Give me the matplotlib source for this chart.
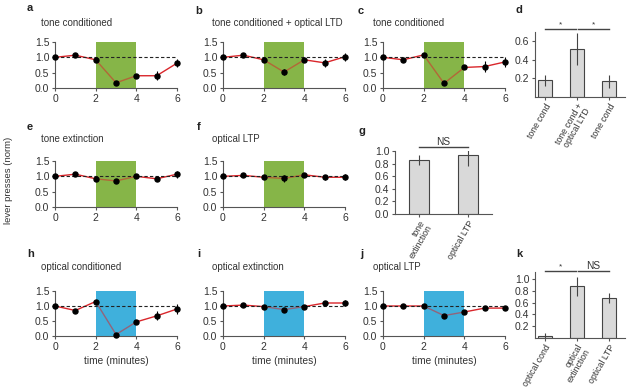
import matplotlib
matplotlib.use("Agg")
import matplotlib.pyplot as plt
import numpy as np

plt.rcParams['font.family'] = ['Liberation Sans', 'DejaVu Sans']
plt.rcParams['font.size'] = 7.5
plt.rcParams['axes.linewidth'] = 0.8
plt.rcParams['xtick.major.width'] = 0.8
plt.rcParams['ytick.major.width'] = 0.8
plt.rcParams['xtick.major.size'] = 2.5
plt.rcParams['ytick.major.size'] = 2.5
plt.rcParams['xtick.major.pad'] = 1.5
plt.rcParams['ytick.major.pad'] = 1.5

time = [0, 1, 2, 3, 4, 5, 6]

a_vals = [1.0, 1.07, 0.92, 0.17, 0.40, 0.40, 0.81]
a_err = [0.0, 0.04, 0.03, 0.03, 0.05, 0.15, 0.12]
b_vals = [1.0, 1.07, 0.92, 0.52, 0.92, 0.82, 1.02]
b_err = [0.0, 0.04, 0.03, 0.10, 0.05, 0.13, 0.13]
c_vals = [1.0, 0.92, 1.08, 0.15, 0.67, 0.70, 0.85]
c_err = [0.0, 0.03, 0.03, 0.03, 0.05, 0.18, 0.15]
e_vals = [1.0, 1.07, 0.92, 0.85, 1.0, 0.92, 1.07]
e_err = [0.0, 0.04, 0.03, 0.03, 0.05, 0.06, 0.12]
f_vals = [1.0, 1.03, 0.97, 0.93, 1.05, 0.97, 0.97]
f_err = [0.0, 0.03, 0.03, 0.10, 0.04, 0.08, 0.10]
h_vals = [1.0, 0.85, 1.15, 0.05, 0.47, 0.67, 0.90]
h_err = [0.0, 0.03, 0.03, 0.03, 0.05, 0.15, 0.17]
i_vals = [1.0, 1.03, 0.98, 0.88, 0.98, 1.10, 1.10]
i_err = [0.0, 0.03, 0.03, 0.05, 0.04, 0.04, 0.10]
j_vals = [1.0, 1.0, 1.0, 0.68, 0.80, 0.93, 0.93]
j_err = [0.0, 0.02, 0.02, 0.03, 0.03, 0.04, 0.05]

d_labels = ["tone cond", "tone cond +\noptical LTD", "tone cond"]
d_vals = [0.18, 0.52, 0.17]
d_err = [0.06, 0.17, 0.07]
g_labels = ["tone\nextinction", "optical LTP"]
g_vals = [0.85, 0.93]
g_err = [0.08, 0.17]
k_labels = ["optical cond", "optical\nextinction", "optical LTP"]
k_vals = [0.04, 0.88, 0.68]
k_err = [0.04, 0.16, 0.08]

GREEN = '#86b548'
BLUE = '#3fb0dc'
RED = '#d9262b'
TXT = '#333333'

W, H = 631, 389
fig = plt.figure(figsize=(W / 100, H / 100), dpi=100)


def px_axes(x0, x1, ytop, ybot):
    return fig.add_axes([x0 / W, 1 - ybot / H, (x1 - x0) / W, (ybot - ytop) / H])


def style(ax):
    for s in ['top', 'right']:
        ax.spines[s].set_visible(False)
    for s in ['left', 'bottom']:
        ax.spines[s].set_color('#555555')
    ax.tick_params(colors='#555555', labelcolor=TXT)


def line_panel(ax, vals, err, color, title, tx, ty, xlabel=False):
    style(ax)
    ax.axvspan(2, 4, color=color, lw=0, zorder=0)
    ax.plot(time, vals, color=RED, lw=1.0, zorder=2)
    ax.axvspan(2, 4, ymin=0, ymax=1, color=color, lw=0, alpha=0.45, zorder=3)
    ax.plot([0, 6], [1, 1], ls=(0, (3, 2)), color='#222222', lw=0.8, zorder=4)
    ax.errorbar(time, vals, yerr=err, fmt='o', color='black', ms=3.6,
                elinewidth=0.8, capsize=0, zorder=5, clip_on=False)
    ax.set_xlim(0, 6)
    ax.set_ylim(0, 1.5)
    ax.set_xticks([0, 2, 4, 6])
    ax.set_yticks([0, 0.5, 1.0, 1.5])
    ax.set_yticklabels(['0.0', '0.5', '1.0', '1.5'])
    fig.text(tx / W, 1 - ty / H, title, ha='left', va='center', color=TXT, fontsize=7)
    if xlabel:
        ax.set_xlabel('time (minutes)', color=TXT, fontsize=7.3, labelpad=3)


def bar_panel(ax, labels, vals, err, ylim, yticks, xlim):
    style(ax)
    x = np.arange(len(vals))
    ax.bar(x, vals, width=0.42, color='#d9d9d9', edgecolor='#444444', lw=0.8, zorder=2)
    ax.errorbar(x, vals, yerr=err, fmt='none', ecolor='#444444', elinewidth=0.8,
                capsize=0, zorder=3)
    ax.set_xlim(*xlim)
    ax.set_ylim(*ylim)
    ax.set_yticks(yticks)
    ax.set_yticklabels([f'{t:.1f}' for t in yticks])
    ax.set_xticks(x)
    ax.set_xticklabels(labels, rotation=60, ha='right', rotation_mode='anchor',
                       linespacing=0.95, fontsize=6.3)
    ax.tick_params(axis='x', pad=1.0)


def sig(ax, x0, x1, y, text, ty):
    ax.plot([x0, x1], [y, y], color='#444444', lw=1.0, clip_on=False)
    ax.text((x0 + x1) / 2, ty, text, ha='center', va='bottom', color=TXT,
            fontsize=7.3 if text == 'NS' else 6)


# Row 1
ax_a = px_axes(55, 177, 42, 88)
line_panel(ax_a, a_vals, a_err, GREEN, 'tone conditioned', 41, 23)
ax_b = px_axes(223, 345, 42, 88)
line_panel(ax_b, b_vals, b_err, GREEN, 'tone conditioned + optical LTD', 212, 23)
ax_c = px_axes(383, 505, 42, 88)
line_panel(ax_c, c_vals, c_err, GREEN, 'tone conditioned', 373, 23)
ax_d = px_axes(535, 625, 32, 97)
bar_panel(ax_d, d_labels, d_vals, d_err, (0, 0.7), [0.2, 0.4, 0.6], (-0.31, 2.5))
sig(ax_d, 0.0, 0.97, 0.73, '*', 0.735)
sig(ax_d, 1.03, 2.0, 0.73, '*', 0.735)

# Row 2
ax_e = px_axes(55, 177, 161, 207)
line_panel(ax_e, e_vals, e_err, GREEN, 'tone extinction', 41, 139)
ax_f = px_axes(223, 345, 161, 207)
line_panel(ax_f, f_vals, f_err, GREEN, 'optical LTP', 212, 139)
ax_g = px_axes(395, 492, 151, 214)
bar_panel(ax_g, g_labels, g_vals, g_err, (0, 1.0), [0.0, 0.2, 0.4, 0.6, 0.8, 1.0], (-0.49, 1.49))
sig(ax_g, 0.0, 1.0, 1.06, 'NS', 1.06)

# Row 3
ax_h = px_axes(55, 177, 291, 336)
line_panel(ax_h, h_vals, h_err, BLUE, 'optical conditioned', 41, 267, xlabel=True)
ax_i = px_axes(223, 345, 291, 336)
line_panel(ax_i, i_vals, i_err, BLUE, 'optical extinction', 212, 267, xlabel=True)
ax_j = px_axes(383, 505, 291, 336)
line_panel(ax_j, j_vals, j_err, BLUE, 'optical LTP', 373, 267, xlabel=True)
ax_k = px_axes(535, 625, 272, 338)
bar_panel(ax_k, k_labels, k_vals, k_err, (0, 1.12), [0.2, 0.4, 0.6, 0.8, 1.0], (-0.31, 2.5))
sig(ax_k, 0.0, 0.97, 1.14, '*', 1.15)
sig(ax_k, 1.03, 2.0, 1.14, 'NS', 1.14)

# Panel letters
letters = [('a', 30, 8), ('b', 199, 11), ('c', 361, 11), ('d', 519, 10),
           ('e', 30, 127), ('f', 199, 127), ('g', 362, 131),
           ('h', 31, 254), ('i', 199, 254), ('j', 362, 254), ('k', 519, 254)]
for t, x, y in letters:
    fig.text(x / W, 1 - y / H, t, ha='center', va='center', fontsize=8,
             fontweight='bold', color='#222222')

fig.text(9 / W, 1 - 180 / H, 'lever presses (norm)', rotation=90, ha='center',
         va='center', color=TXT, fontsize=6.8)

fig.savefig('out.png', dpi=100)
